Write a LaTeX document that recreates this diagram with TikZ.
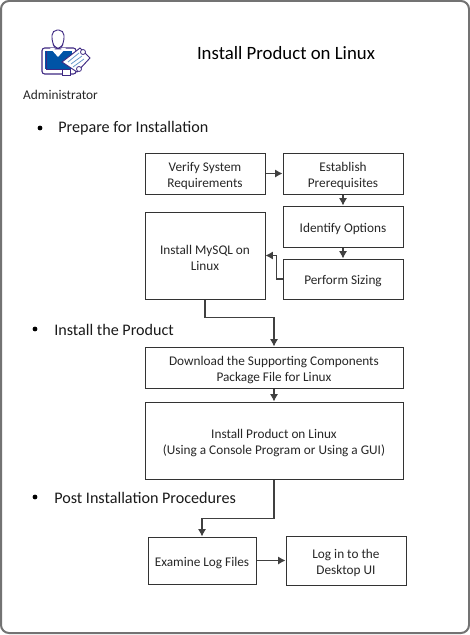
\documentclass[tikz,border=0pt]{standalone}
\usepackage{fontspec}
\setmainfont{Carlito}
\usetikzlibrary{arrows.meta}
\newcommand{\toproom}{\rule{0pt}{10pt}}
\begin{document}
\begin{tikzpicture}[x=0.75pt,y=-0.75pt,line join=miter,>={Latex[length=5.5pt,width=6pt]}]
  \tikzset{
    framebox/.style={draw=black!55,line width=1.5pt,rounded corners=6pt},
    stepbox/.style={draw=black!80,line width=0.75pt,align=center,inner sep=0pt,font=\fontsize{9.95}{12}\selectfont,text=black!85},
    linkline/.style={draw=black!75,line width=0.8pt,->},
    heading/.style={anchor=west,inner sep=0pt,font=\fontsize{12.1}{14}\selectfont,text=black!90},
    bulletdot/.style={circle,fill=black,inner sep=0pt,minimum size=3.6pt},
  }
  \useasboundingbox (0,0) rectangle (470,635);
  \draw[framebox] (1,1) rectangle (469,633);

  % ==================== icon ====================
  \definecolor{iconblue}{RGB}{0,84,166}
  \definecolor{iconline}{RGB}{62,40,130}
  \draw[iconline,line width=0.8pt,fill=white,rounded corners=2pt] (42,48) rectangle (76,74);
  \fill[iconblue] (45,51) rectangle (72,69);
  \fill[white] (50,48) -- (66,48) -- (58,57) -- cycle;
  \draw[iconline,line width=0.7pt] (46,51) -- (46,69) -- (62,69);
  \draw[iconline,line width=0.7pt,fill=white,rounded corners=4pt] (52,30) -- (64,30) -- (64,43) -- (60,49) -- (56,49) -- (52,43) -- cycle;
  \draw[iconline,line width=0.7pt,fill=white] (62,69) rectangle (70,75);
  \draw[iconline,line width=0.7pt,fill=white] (62,62) -- (80,48) -- (90,58) -- (77,72) -- cycle;
  \draw[iconblue!60,line width=0.6pt] (68,62) -- (79,53) (71,64) -- (82,56) (73,67) -- (84,59);
  \draw[iconline,line width=0.6pt,fill=white] (79,69) circle (2.5);
  \draw[iconline,line width=0.6pt,fill=white] (83,52) circle (2.5);
  \node[anchor=center,inner sep=0pt,font=\fontsize{10}{12}\selectfont,text=black!85] (admin) at (60.5,95) {Administrator};

  % ==================== title ====================
  \node[anchor=center,inner sep=0pt,font=\fontsize{14.1}{17}\selectfont] (title) at (286,53) {Install Product on Linux};

  % ==================== headings ====================
  \node[bulletdot] (dotA) at (40,128) {};
  \node[heading] (prepare) at (58,128) {Prepare for Installation};
  \node[bulletdot] (dotB) at (35,329) {};
  \node[heading] (product) at (54,330) {Install the Product};
  \node[bulletdot] (dotC) at (35,497) {};
  \node[heading] (post) at (54,498) {Post Installation Procedures};

  % ==================== boxes ====================
  \node[stepbox,minimum width=90pt,minimum height=30.75pt] (verify) at (205,173.5) {\toproom Verify System\\Requirements};
  \node[stepbox,minimum width=90pt,minimum height=30.75pt] (establish) at (343,173.5) {\toproom Establish\\Prerequisites};
  \node[stepbox,minimum width=90pt,minimum height=30.75pt] (options) at (343,226.5) {\toproom Identify Options};
  \node[stepbox,minimum width=90pt,minimum height=30pt] (sizing) at (343,279) {\toproom Perform Sizing};
  \node[stepbox,minimum width=90pt,minimum height=65.25pt] (mysql) at (205,255.5) {\toproom Install MySQL on\\Linux};
  \node[stepbox,minimum width=193.5pt,minimum height=30.75pt] (download) at (274,367.5) {\toproom Download the Supporting Components\\Package File for Linux};
  \node[stepbox,minimum width=193.5pt,minimum height=57.75pt] (install) at (274,440.5) {\toproom Install Product on Linux\\(Using a Console Program or Using a GUI)};
  \node[stepbox,minimum width=81pt,minimum height=35.25pt] (examine) at (202,560.5) {\toproom Examine Log Files};
  \node[stepbox,minimum width=90pt,minimum height=36.75pt] (login) at (346,560.5) {\toproom Log in to the\\Desktop UI};

  % ==================== links ====================
  \draw[linkline] (verify) -- (establish);
  \draw[linkline] (establish) -- (options);
  \draw[linkline] (options) -- (sizing);
  \draw[linkline] (sizing.west) -- ++(-6,0) |- (mysql.east);
  \draw[linkline] (mysql.south) -- ++(0,18) -| (download.north);
  \draw[linkline] (download) -- (install);
  \draw[linkline] (install.south) -- ++(0,39) -| (examine.north);
  \draw[linkline] (examine) -- (login);
\end{tikzpicture}
\end{document}
